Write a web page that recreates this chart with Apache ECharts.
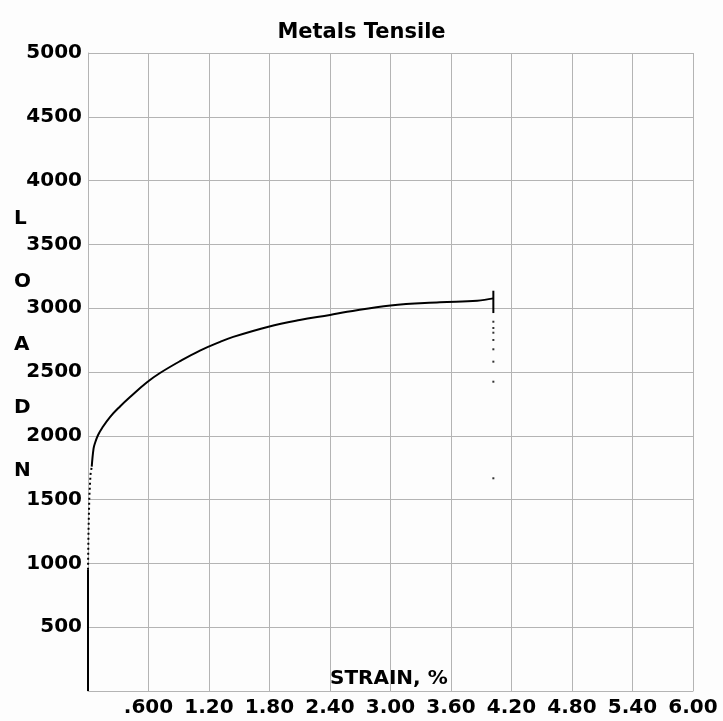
<!DOCTYPE html>
<html>
<head>
<meta charset="utf-8">
<script src="https://cdn.jsdelivr.net/npm/echarts@6/dist/echarts.min.js"></script>
<style>
  html, body { margin: 0; padding: 0; background: #fdfdfd; }
  #chart { width: 723px; height: 721px; }
</style>
</head>
<body>
<div id="chart"></div>
<script>
// strain (%) / load (N)
var elasticPts = [[0, 0], [0, 950]];
var yieldPts = [[0, 950], [0.005, 1250], [0.013, 1520], [0.025, 1700], [0.037, 1758]];
var curvePts = [
  [0.037, 1758], [0.055, 1900], [0.07, 1944], [0.10, 2006], [0.14, 2061],
  [0.218, 2147], [0.32, 2232], [0.417, 2304], [0.582, 2418], [0.714, 2492],
  [0.913, 2585], [1.11, 2668], [1.31, 2736], [1.44, 2775], [1.79, 2855],
  [2.10, 2907], [2.40, 2947], [2.57, 2972], [3.00, 3022], [3.49, 3046],
  [3.86, 3059], [4.02, 3077]
];
var breakPts = [[4.02, 3137], [4.02, 2962]];
var dropPts = [
  [4.02, 2894], [4.02, 2845], [4.02, 2808], [4.02, 2751],
  [4.02, 2678], [4.02, 2581], [4.02, 2424], [4.02, 1667]
];

var font = "'DejaVu Sans', sans-serif";
var myChart = echarts.init(document.getElementById("chart"));

var option = {
  backgroundColor: "#fdfdfd",
  animation: false,
  title: {
    text: "Metals Tensile",
    left: "center",
    top: 17,
    textStyle: { fontFamily: font, fontWeight: "bold", fontSize: 21, color: "#000" }
  },
  grid: { left: 88, right: 30, top: 53, bottom: 30 },
  graphic: [
    {
      type: "text",
      left: 14,
      top: 187,
      style: {
        text: "L\nO\nA\nD\nN",
        font: "bold 20px " + font,
        lineHeight: 63,
        fill: "#000"
      }
    },
    {
      type: "text",
      left: 330,
      top: 669,
      style: {
        text: "STRAIN, %",
        font: "bold 20px " + font,
        fill: "#000"
      }
    }
  ],
  xAxis: {
    type: "value",
    min: 0,
    max: 6,
    interval: 0.6,
    axisLine: { lineStyle: { color: "#b4b4b4" } },
    axisTick: { show: false },
    splitLine: { lineStyle: { color: "#b4b4b4", width: 1 } },
    axisLabel: {
      margin: 7,
      fontFamily: font,
      fontWeight: "bold",
      fontSize: 20,
      color: "#000",
      formatter: function (v) {
        if (v === 0) return "";
        if (v < 1) return "." + Math.round(v * 1000);
        return v.toFixed(2);
      }
    }
  },
  yAxis: {
    type: "value",
    min: 0,
    max: 5000,
    interval: 500,
    axisLine: { show: true, lineStyle: { color: "#b4b4b4" } },
    axisTick: { show: false },
    splitLine: { lineStyle: { color: "#b4b4b4", width: 1 } },
    axisLabel: {
      margin: 6,
      fontFamily: font,
      fontWeight: "bold",
      fontSize: 20,
      color: "#000",
      formatter: function (v) {
        return v === 0 ? "" : String(v);
      }
    }
  },
  series: [
    {
      type: "line",
      data: elasticPts,
      showSymbol: false,
      lineStyle: { color: "#000", width: 2 }
    },
    {
      type: "line",
      data: yieldPts,
      showSymbol: false,
      lineStyle: { color: "#000", width: 2, type: [2, 3] }
    },
    {
      type: "line",
      data: curvePts,
      showSymbol: false,
      smooth: 0.4,
      lineStyle: { color: "#000", width: 2 }
    },
    {
      type: "line",
      data: breakPts,
      showSymbol: false,
      lineStyle: { color: "#000", width: 2 }
    },
    {
      type: "scatter",
      data: dropPts,
      symbol: "rect",
      symbolSize: 2,
      itemStyle: { color: "#000" }
    }
  ]
};

myChart.setOption(option);
</script>
</body>
</html>
